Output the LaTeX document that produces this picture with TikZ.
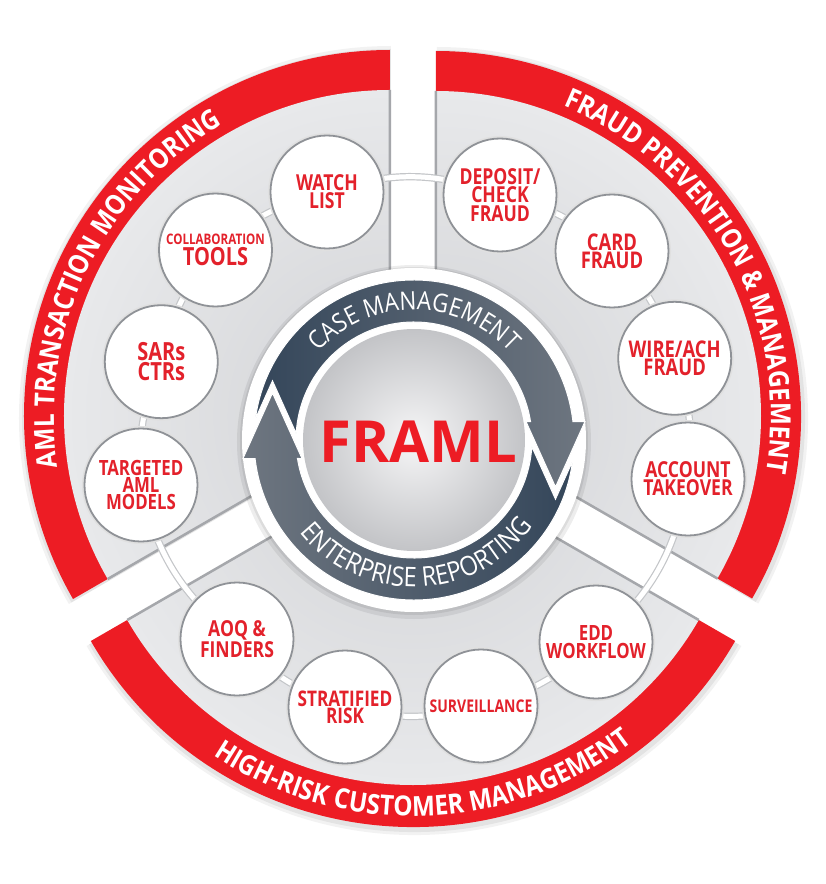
\documentclass[tikz,border=0pt]{standalone}
\usepackage{fontspec}
\setmainfont{Open Sans}
\newfontfamily\ringfam{Open Sans}[FakeStretch=0.88]
\newfontfamily\circfam{Open Sans}[FakeStretch=0.8]
\usetikzlibrary{decorations.text}
\pgfdeclarelayer{back}
\pgfdeclarelayer{mid}
\pgfsetlayers{back,mid,main}
\definecolor{fred}{HTML}{ED1C24}
\definecolor{ctext}{HTML}{E3212B}
\definecolor{segin}{HTML}{D1D2D5}
\definecolor{segout}{HTML}{E8E9EB}
\definecolor{edgeg}{HTML}{A5A7AB}
\definecolor{cbord}{HTML}{8F9297}
\definecolor{arrdark}{HTML}{34465A}
\definecolor{arrlight}{HTML}{6E7680}
\definecolor{sphin}{HTML}{F6F6F7}
\definecolor{sphout}{HTML}{C3C4C7}
\definecolor{connedge}{HTML}{C4C6C9}
\newcommand\ringfont{\ringfam\bfseries\fontsize{27.6pt}{27.6pt}\selectfont\color{white}}
\newcommand\innerfont{\ringfam\fontsize{25.5pt}{25.5pt}\selectfont\color{white}}
\newcommand\innerfontb{\ringfam\fontsize{27pt}{27pt}\selectfont\color{white}}
\begin{document}
\begin{tikzpicture}[x=1pt,y=1pt,
  circ/.style={circle, minimum size=113pt, inner sep=0pt, fill=white, draw=cbord, line width=1.8pt,
    preaction={draw=black!12, line width=5pt},
    text=ctext, align=center, font=\circfam\bfseries\fontsize{22pt}{18pt}\selectfont},
  conn/.style={draw=connedge, line width=1.2pt, double=white, double distance=5pt},
  segedge/.style={draw=edgeg, line width=2.5pt},
]
\useasboundingbox (-414,-444) rectangle (412,440);
\coordinate (TL) at (-24,24);
\coordinate (TR) at (22,24);
\coordinate (B) at (-1,-15);

% ---------- three exploded segments ----------
\begin{pgfonlayer}{back}
\fill[white] (-414,-444) rectangle (412,440);
\foreach \cx/\cy/\a/\R/\r in {-24/24/90/366/326, 22/24/-30/365/325, -1/-15/210/372/330}{
  \fill[black, opacity=0.05] (\cx+1,\cy-2) -- ++(\a:\R+6) arc[start angle=\a, end angle=\a+120, radius=\R+6] -- cycle;
  \fill[black, opacity=0.06] (\cx+1,\cy-2) -- ++(\a:\R+3) arc[start angle=\a, end angle=\a+120, radius=\R+3] -- cycle;
  \fill[fred] (\cx,\cy) -- ++(\a:\R) arc[start angle=\a, end angle=\a+120, radius=\R] -- cycle;
  \begin{scope}
    \clip (\cx,\cy) -- ++(\a:\r) arc[start angle=\a, end angle=\a+120, radius=\r] -- cycle;
    \shade[inner color=segin, outer color=segout] (\cx,\cy) circle (\r);
  \end{scope}
  \draw[segedge] (\cx,\cy) ++(\a:\r) -- (\cx,\cy) -- ++(\a+120:\r);
}
\end{pgfonlayer}

% ---------- ring labels ----------
\path[decorate, decoration={text along path, text align=center,
  text={|\ringfont|AML TRANSACTION MONITORING}}]
  ([shift={(224.3:336)}]TL) arc[start angle=224.3, end angle=84.3, radius=336];
\path[decorate, decoration={text along path, text align=center,
  text={|\ringfont|FRAUD PREVENTION {\&} MANAGEMENT}}]
  ([shift={(99:335)}]TR) arc[start angle=99, end angle=-41, radius=335];
\path[decorate, decoration={text along path, text align=center,
  text={|\ringfont|HIGH-RISK CUSTOMER MANAGEMENT}}]
  ([shift={(201.9:361)}]B) arc[start angle=201.9, end angle=341.9, radius=361];

% ---------- small circles ----------
\node[circ] (watch) at (-87,248) {WATCH\\LIST};
\node[circ, font=\circfam\bfseries\fontsize{25pt}{21pt}\selectfont] (collab) at (-198.5,190)
  {{\fontsize{14.5pt}{14.5pt}\selectfont COLLABORATION}\\TOOLS};
\node[circ, font=\circfam\bfseries\fontsize{25pt}{20pt}\selectfont] (sars) at (-252.7,78.3) {SARs\\CTRs};
\node[circ, font=\circfam\bfseries\fontsize{21pt}{17pt}\selectfont] (targ) at (-273,-45) {TARGETED\\AML\\MODELS};
\node[circ, font=\circfam\bfseries\fontsize{22pt}{17pt}\selectfont] (aoq) at (-177,-199) {AOQ \&\\FINDERS};
\node[circ, font=\circfam\bfseries\fontsize{21.5pt}{17pt}\selectfont] (strat) at (-69,-267) {STRATIFIED\\RISK};
\node[circ, font=\circfam\bfseries\fontsize{17.5pt}{17pt}\selectfont] (surv) at (67,-266) {SURVEILLANCE};
\node[circ, font=\circfam\bfseries\fontsize{21pt}{18pt}\selectfont] (edd) at (182,-202) {EDD\\WORKFLOW};
\node[circ, font=\circfam\bfseries\fontsize{22pt}{18pt}\selectfont] (acct) at (274,-39) {ACCOUNT\\TAKEOVER};
\node[circ, font=\circfam\bfseries\fontsize{23pt}{18pt}\selectfont] (wire) at (260.7,81.7) {WIRE/ACH\\FRAUD};
\node[circ, font=\circfam\bfseries\fontsize{23pt}{18pt}\selectfont] (card) at (198,189) {CARD\\FRAUD};
\node[circ, font=\circfam\bfseries\fontsize{22pt}{18.3pt}\selectfont] (dep) at (86,245) {DEPOSIT/\\CHECK\\FRAUD};

% ---------- connectors ----------
\begin{pgfonlayer}{mid}
\draw[conn] (acct.center) to[bend right=12.8] (wire.center);
\draw[conn] (wire.center) to[bend right=13.2] (card.center);
\draw[conn] (card.center) to[bend right=13.5] (dep.center);
\draw[conn] (dep.center) to[bend right=19.3] (watch.center);
\draw[conn] (watch.center) to[bend right=13.5] (collab.center);
\draw[conn] (collab.center) to[bend right=13.3] (sars.center);
\draw[conn] (sars.center) to[bend right=13.3] (targ.center);
\draw[conn] (targ.center) to[bend right=19.5] (aoq.center);
\draw[conn] (aoq.center) to[bend right=13.6] (strat.center);
\draw[conn] (strat.center) to[bend right=14.3] (surv.center);
\draw[conn] (surv.center) to[bend right=14] (edd.center);
\draw[conn] (edd.center) to[bend right=20] (acct.center);
\end{pgfonlayer}

% ---------- central hub ----------
\fill[black, opacity=0.07] (0,-2) circle (177);
\fill[black, opacity=0.07] (0,-1) circle (174);
\fill[white] (0,0) circle (172);
\shade[inner color=sphin, outer color=sphout] (0,0) circle (111);
\shadedraw[left color=arrdark, right color=arrlight, draw=white, line width=1pt]
  (172.4:160) arc[start angle=172.4, end angle=6.64, radius=160]
  -- (171,18.5) -- (141.5,-47) -- (112,18.5)
  -- (9.02:118) arc[start angle=9.02, end angle=176.8, radius=118]
  -- (-141.5,59.17) -- cycle;
\shadedraw[left color=arrlight, right color=arrdark, draw=white, line width=1pt]
  (352.4:160) arc[start angle=352.4, end angle=186.64, radius=160]
  -- (-171,-18.5) -- (-141.5,47) -- (-112,-18.5)
  -- (189.02:118) arc[start angle=189.02, end angle=356.8, radius=118]
  -- (141.5,-59.17) -- cycle;
\path[decorate, decoration={text along path, text align=center,
  text={|\innerfont|CASE MANAGEMENT}}]
  (180:130) arc[start angle=180, end angle=0, radius=130];
\path[decorate, decoration={text along path, text align=center,
  text={|\innerfontb|ENTERPRISE REPORTING}}]
  (181.5:147) arc[start angle=181.5, end angle=361.5, radius=147];
\node[text=fred, font=\bfseries\fontsize{58pt}{58pt}\selectfont, inner sep=0pt] (framl) at (4,-2) {FRAML};
\end{tikzpicture}
\end{document}
